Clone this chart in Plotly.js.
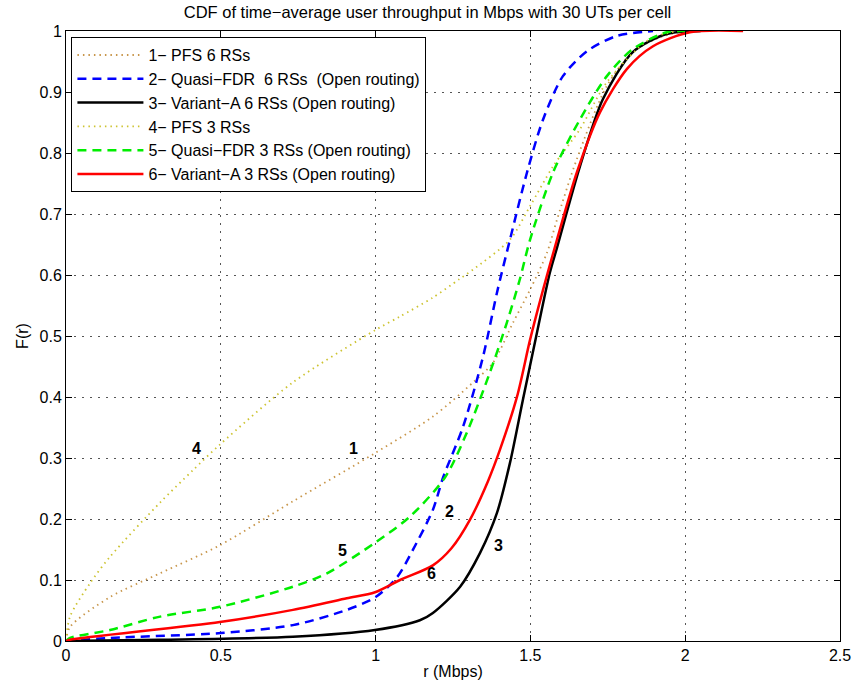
<!DOCTYPE html>
<html>
<head>
<meta charset="utf-8">
<script src="https://cdn.plot.ly/plotly-3.0.1.min.js"></script>
<style>html,body{margin:0;padding:0;background:#fff;}#chart{width:855px;height:687px;}</style>
</head>
<body>
<div id="chart"></div>
<script>
// Series 1: PFS 6 RSs
const x1 = [0, 0.013, 0.142, 0.304, 0.497, 0.733, 0.998, 1.185, 1.315, 1.379, 1.444, 1.499, 1.554, 1.586, 1.65, 1.747, 1.83, 1.92, 2.0];
const y1 = [0, 0.023, 0.072, 0.111, 0.157, 0.229, 0.308, 0.368, 0.424, 0.456, 0.522, 0.576, 0.637, 0.691, 0.79, 0.91, 0.965, 0.99, 1.0];
// Series 2: Quasi-FDR 6 RSs
const x2 = [0, 0.142, 0.5, 0.733, 0.907, 1.0, 1.07, 1.12, 1.185, 1.218, 1.283, 1.347, 1.392, 1.434, 1.489, 1.541, 1.605, 1.683, 1.78, 1.896];
const y2 = [0, 0.005, 0.013, 0.026, 0.051, 0.072, 0.105, 0.149, 0.215, 0.268, 0.352, 0.466, 0.571, 0.658, 0.768, 0.855, 0.926, 0.967, 0.992, 1.0];
// Series 3: Variant-A 6 RSs
const x3 = [0, 0.304, 0.733, 0.998, 1.143, 1.185, 1.273, 1.337, 1.392, 1.434, 1.476, 1.521, 1.563, 1.586, 1.66, 1.734, 1.83, 1.94, 2.05];
const y3 = [0, 0.002, 0.007, 0.018, 0.034, 0.046, 0.089, 0.144, 0.21, 0.292, 0.396, 0.505, 0.604, 0.645, 0.778, 0.888, 0.965, 0.995, 1.0];
// Series 4: PFS 3 RSs
const x4 = [0, 0.013, 0.078, 0.142, 0.304, 0.41, 0.497, 0.733, 1.0, 1.079, 1.185, 1.27, 1.315, 1.434, 1.499, 1.573, 1.66, 1.747, 1.886, 1.98];
const y4 = [0, 0.04, 0.095, 0.138, 0.227, 0.28, 0.322, 0.424, 0.51, 0.532, 0.563, 0.593, 0.609, 0.658, 0.713, 0.778, 0.839, 0.916, 0.987, 1.0];
// Series 5: Quasi-FDR 3 RSs
const x5 = [0, 0.013, 0.142, 0.304, 0.497, 0.733, 0.843, 0.998, 1.111, 1.224, 1.295, 1.369, 1.424, 1.466, 1.499, 1.573, 1.66, 1.747, 1.83, 1.94, 2.0];
const y5 = [0, 0.005, 0.018, 0.04, 0.056, 0.089, 0.111, 0.161, 0.204, 0.268, 0.342, 0.44, 0.522, 0.593, 0.658, 0.768, 0.855, 0.926, 0.97, 0.998, 1.0];
// Series 6: Variant-A 3 RSs
const x6 = [0, 0.013, 0.497, 0.733, 0.907, 0.998, 1.079, 1.185, 1.245, 1.305, 1.363, 1.402, 1.457, 1.499, 1.541, 1.586, 1.65, 1.725, 1.812, 1.896, 2.015, 2.187];
const y6 = [0, 0.002, 0.031, 0.051, 0.07, 0.08, 0.1, 0.124, 0.152, 0.199, 0.262, 0.314, 0.401, 0.494, 0.576, 0.658, 0.768, 0.867, 0.938, 0.975, 0.998, 1.0];

const names = ['1\u2212 PFS 6 RSs', '2\u2212 Quasi\u2212FDR  6 RSs  (Open routing)', '3\u2212 Variant\u2212A 6 RSs (Open routing)', '4\u2212 PFS 3 RSs', '5\u2212 Quasi\u2212FDR 3 RSs (Open routing)', '6\u2212 Variant\u2212A 3 RSs (Open routing)'];
const curveLabels = ['1', '2', '3', '4', '5', '6'];
const labelX = [0.93, 1.238, 1.398, 0.42, 0.893, 1.18];
const labelY = [0.315, 0.213, 0.157, 0.315, 0.148, 0.111];

const xTicks = [0, 0.5, 1, 1.5, 2, 2.5];
const yTicks = [0, 0.1, 0.2, 0.3, 0.4, 0.5, 0.6, 0.7, 0.8, 0.9, 1];

const traces = [
  {x: x1, y: y1, name: names[0], mode: 'lines', line: {color: '#c8964b', width: 1.8, dash: '1.5px,4px', shape: 'spline', smoothing: 0.8}},
  {x: x2, y: y2, name: names[1], mode: 'lines', line: {color: '#0000ff', width: 2.5, dash: '9px,6px', shape: 'spline', smoothing: 0.8}},
  {x: x3, y: y3, name: names[2], mode: 'lines', line: {color: '#000000', width: 2.5, shape: 'spline', smoothing: 0.8}},
  {x: x4, y: y4, name: names[3], mode: 'lines', line: {color: '#cdc331', width: 1.8, dash: '1.5px,4px', shape: 'spline', smoothing: 0.8}},
  {x: x5, y: y5, name: names[4], mode: 'lines', line: {color: '#00ee00', width: 2.5, dash: '9px,6px', shape: 'spline', smoothing: 0.8}},
  {x: x6, y: y6, name: names[5], mode: 'lines', line: {color: '#ff0000', width: 2.5, shape: 'spline', smoothing: 0.8}}
];

const annotations = curveLabels.map((t, i) => ({
  x: labelX[i], y: labelY[i], xref: 'x', yref: 'y', text: '<b>' + t + '</b>', showarrow: false,
  font: {size: 16, color: '#000', family: 'Liberation Sans, Arial, sans-serif'}
}));

const axisCommon = {
  showline: true, linecolor: '#000', linewidth: 1, mirror: 'ticks',
  ticks: 'inside', ticklen: 6, tickcolor: '#000',
  showgrid: true, gridcolor: '#555', griddash: '2px,6px', gridwidth: 1,
  zeroline: false, tickfont: {size: 16, color: '#000', family: 'Liberation Sans, Arial, sans-serif'}
};

const layout = {
  width: 855, height: 687,
  margin: {l: 66, r: 15, t: 31, b: 46},
  paper_bgcolor: '#fff', plot_bgcolor: '#fff',
  font: {family: 'Liberation Sans, Arial, sans-serif', color: '#000'},
  title: {text: 'CDF of time\u2212average user throughput in Mbps with 30 UTs per cell', font: {size: 16.5, color: '#000'}, x: 0.5, xanchor: 'center', y: 0.982, yanchor: 'middle'},
  xaxis: Object.assign({}, axisCommon, {range: [0, 2.5], tickvals: xTicks, ticktext: xTicks.map(String),
    title: {text: 'r (Mbps)', font: {size: 16}, standoff: 2}}),
  yaxis: Object.assign({}, axisCommon, {range: [0, 1], tickvals: yTicks, ticktext: yTicks.map(String),
    title: {text: 'F(r)', font: {size: 16}, standoff: 6}}),
  showlegend: true,
  legend: {x: 0.007, y: 0.99, xanchor: 'left', yanchor: 'top', bgcolor: '#fff', bordercolor: '#000', borderwidth: 1,
    font: {size: 16, color: '#000'}, tracegroupgap: 0, itemwidth: 66},
  annotations: annotations
};

Plotly.newPlot('chart', traces, layout, {displayModeBar: false, staticPlot: true});
</script>
</body>
</html>
